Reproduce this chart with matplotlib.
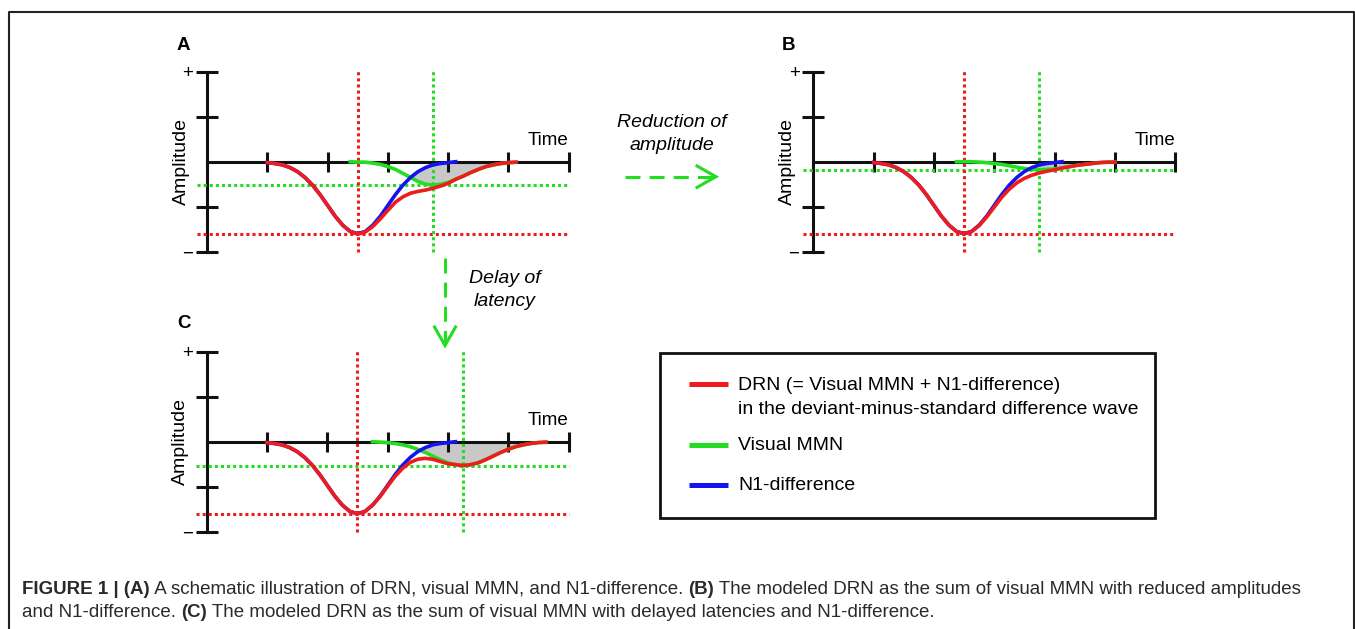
import numpy as np
import matplotlib
matplotlib.use("Agg")
import matplotlib.pyplot as plt
from matplotlib.patches import Rectangle

plt.rcParams['font.family'] = ['Liberation Sans', 'DejaVu Sans']

N = np.nan

# sample times (time-axis tick units) and amplitudes
t = [1.0, 1.125, 1.25, 1.375, 1.5, 1.625, 1.75, 1.875, 2.0, 2.125,
     2.25, 2.375, 2.5, 2.625, 2.75, 2.875, 3.0, 3.125, 3.25, 3.375,
     3.5, 3.625, 3.75, 3.875, 4.0, 4.125, 4.25, 4.375, 4.5, 4.625,
     4.75, 4.875, 5.0, 5.125, 5.25, 5.375, 5.5, 5.625]

# N1-difference (same in all three panels)
n1_diff = [-0.02, -0.04, -0.07, -0.13, -0.22, -0.35, -0.52, -0.73, -0.97, -1.21,
           -1.41, -1.55, -1.60, -1.55, -1.41, -1.21, -0.97, -0.73, -0.52, -0.35,
           -0.22, -0.13, -0.07, -0.04, -0.02, 0.00, N, N, N, N,
           N, N, N, N, N, N, N, N]

# panel A
mmn_a = [N, N, N, N, N, N, N, N, N, N,
         N, 0.00, -0.01, -0.01, -0.03, -0.06, -0.11, -0.17, -0.26, -0.35,
         -0.44, -0.50, -0.52, -0.50, -0.46, -0.39, -0.32, -0.24, -0.17, -0.11,
         -0.07, -0.04, -0.02, -0.01, N, N, N, N]
drn_a = [-0.02, -0.04, -0.07, -0.13, -0.22, -0.35, -0.52, -0.73, -0.97, -1.21,
         -1.41, -1.55, -1.61, -1.56, -1.44, -1.27, -1.08, -0.90, -0.78, -0.70,
         -0.66, -0.63, -0.59, -0.54, -0.48, -0.39, -0.32, -0.24, -0.17, -0.11,
         -0.07, -0.04, -0.02, -0.01, N, N, N, N]

# panel B (reduced MMN amplitude)
mmn_b = [N, N, N, N, N, N, N, N, N, N,
         N, 0.00, 0.00, 0.00, -0.01, -0.02, -0.04, -0.06, -0.09, -0.12,
         -0.15, -0.17, -0.18, -0.17, -0.16, -0.14, -0.11, -0.08, -0.06, -0.04,
         -0.02, -0.01, -0.01, N, N, N, N, N]
drn_b = [-0.02, -0.04, -0.07, -0.13, -0.22, -0.35, -0.52, -0.73, -0.97, -1.21,
         -1.41, -1.55, -1.60, -1.55, -1.42, -1.23, -1.01, -0.79, -0.61, -0.47,
         -0.37, -0.30, -0.25, -0.21, -0.18, -0.14, -0.11, -0.08, -0.06, -0.04,
         -0.02, -0.01, -0.01, N, N, N, N, N]

# panel C (delayed MMN latency)
mmn_c = [N, N, N, N, N, N, N, N, N, N,
         N, N, N, N, 0.00, -0.01, -0.02, -0.04, -0.07, -0.11,
         -0.17, -0.24, -0.32, -0.40, -0.47, -0.51, -0.53, -0.51, -0.47, -0.40,
         -0.32, -0.24, -0.17, -0.11, -0.07, -0.04, -0.02, -0.01]
drn_c = [-0.02, -0.04, -0.07, -0.13, -0.22, -0.35, -0.52, -0.73, -0.97, -1.21,
         -1.41, -1.55, -1.60, -1.55, -1.41, -1.22, -0.99, -0.77, -0.59, -0.46,
         -0.39, -0.37, -0.39, -0.44, -0.49, -0.51, -0.53, -0.51, -0.47, -0.40,
         -0.32, -0.24, -0.17, -0.11, -0.07, -0.04, -0.02, -0.01]

legend_labels = ['DRN (= Visual MMN + N1-difference)',
                 'in the deviant-minus-standard difference wave',
                 'Visual MMN', 'N1-difference']

cap1 = [("FIGURE 1 | (A)", 'bold'),
        (" A schematic illustration of DRN, visual MMN, and N1-difference. ", 'normal'),
        ("(B)", 'bold'),
        (" The modeled DRN as the sum of visual MMN with reduced amplitudes", 'normal')]
cap2 = [("and N1-difference. ", 'normal'),
        ("(C)", 'bold'),
        (" The modeled DRN as the sum of visual MMN with delayed latencies and N1-difference.", 'normal')]

RED = '#ee1c1c'
GREEN = '#22dd22'
BLUE = '#1414ee'
GRAY = '#c8c8c8'
INK = '#111111'

W, H = 1355, 629
fig = plt.figure(figsize=(W / 100, H / 100), dpi=100)

# full-figure layer in pixel units for arrows, legend box, caption
over = fig.add_axes([0, 0, 1, 1])
over.set_xlim(0, W)
over.set_ylim(H, 0)
over.axis('off')

UX, UY = 60.3, 45.0          # pixels per time tick / amplitude unit
XL, YL = (-0.8, 6.2), (-2.35, 2.3)
tt = np.array(t)


def panel(ox, oy, mmn, drn):
    left = ox + XL[0] * UX
    top = oy - YL[1] * UY
    w = (XL[1] - XL[0]) * UX
    h = (YL[1] - YL[0]) * UY
    ax = fig.add_axes([left / W, 1 - (top + h) / H, w / W, h / H])
    ax.patch.set_alpha(0)
    ax.set_xlim(*XL)
    ax.set_ylim(*YL)

    n1 = np.array(n1_diff, float)
    m = np.array(mmn, float)
    d = np.array(drn, float)

    # grey area: MMN part not covered by N1-difference
    base = np.where(np.isnan(n1), 0.0, n1)
    ok = ~np.isnan(m)
    ax.fill_between(tt[ok], base[ok], m[ok], where=m[ok] < base[ok],
                    interpolate=True, color=GRAY, lw=0, zorder=1)

    # peak markers
    dots = dict(ls=(0, (1, 1)), lw=2.2, dash_capstyle='butt', zorder=3)
    i_r = np.nanargmin(d)
    i_g = np.nanargmin(m)
    ax.plot([-0.17, 6.0], [d[i_r], d[i_r]], color=RED, **dots)
    ax.plot([-0.17, 6.0], [m[i_g], m[i_g]], color=GREEN, **dots)
    ax.plot([tt[i_r], tt[i_r]], [-2.0, 2.05], color=RED, **dots)
    ax.plot([tt[i_g], tt[i_g]], [-2.0, 2.05], color=GREEN, **dots)

    ax.plot(tt, m, color=GREEN, lw=2.6, zorder=4)
    ax.plot(tt, n1, color=BLUE, lw=2.6, zorder=5)
    ax.plot(tt, d, color=RED, lw=2.6, zorder=6)

    for s in ['top', 'right']:
        ax.spines[s].set_visible(False)
    ax.spines['left'].set_position(('data', 0))
    ax.spines['bottom'].set_position(('data', 0))
    ax.spines['left'].set_bounds(-2, 2)
    ax.spines['bottom'].set_bounds(0, 6)
    for s in ['left', 'bottom']:
        ax.spines[s].set_linewidth(2.2)
        ax.spines[s].set_color(INK)
    ax.set_xticks(range(1, 7))
    ax.set_xticklabels([])
    ax.set_yticks([-2, -1, 1, 2])
    ax.set_yticklabels(['\u2212', '', '', '+'])
    ax.tick_params(axis='x', direction='inout', length=14.4, width=2.2, color=INK)
    ax.tick_params(axis='y', direction='inout', length=15.8, width=2.2, color=INK,
                   labelsize=13.5, pad=2)

    ax.text(6.0, 0.38, 'Time', ha='right', va='baseline', fontsize=13.5)
    ax.text(-0.43, 0, 'Amplitude', rotation=90, ha='center', va='center', fontsize=14)
    return ax


panel(207.0, 161.7, mmn_a, drn_a)
panel(813.3, 161.7, mmn_b, drn_b)
panel(206.7, 441.7, mmn_c, drn_c)

for lab, x, y in [('A', 177, 50), ('B', 782, 50), ('C', 177, 328)]:
    over.text(x, y, lab, fontsize=13.5, fontweight='bold', va='baseline', ha='left')

# arrows between panels
dash = dict(color=GREEN, lw=2.2, ls=(0, (4.9, 3.0)), dash_capstyle='butt')
head = dict(color=GREEN, lw=2.2, solid_joinstyle='miter')
over.plot([625, 713], [176.7, 176.7], **dash)
over.plot([697, 716, 697], [166, 176.7, 187.4], **head)
over.plot([445, 445], [258, 344], **dash)
over.plot([434.5, 445, 455.5], [327, 345.5, 327], **head)
over.text(671.7, 134, 'Reduction of\namplitude', style='italic', ha='center',
          va='center', fontsize=14, linespacing=1.5)
over.text(505, 290, 'Delay of\nlatency', style='italic', ha='center',
          va='center', fontsize=14, linespacing=1.45)

# legend
over.add_patch(Rectangle((660, 353.3), 495, 165, fill=False, lw=2.0, ec=INK))
for col, y in [(RED, 384.3), (GREEN, 445), (BLUE, 485)]:
    over.plot([689, 728], [y, y], color=col, lw=3.6, solid_capstyle='butt')
for lab, y in zip(legend_labels, [385, 410, 445, 485]):
    over.text(738, y, lab, fontsize=14, va='center', ha='left')

# outer frame
over.plot([8.5, 8.5, 1353.5, 1353.5], [H + 5, 11.5, 11.5, H + 5], color='#222222', lw=1.5)

# caption, bold and regular runs chained left to right
cap_font = ['Liberation Sans Narrow', 'Liberation Sans', 'DejaVu Sans']


def caption_line(parts, x, y):
    prev = None
    out = []
    for s, wt in parts:
        if prev is None:
            a = over.text(x, y, s, fontsize=12, fontweight=wt, family=cap_font,
                          color='#2a2a2a', va='bottom', ha='left')
        else:
            a = over.annotate(s, xy=(1, 0), xycoords=prev, fontsize=12, fontweight=wt,
                              family=cap_font, color='#2a2a2a', va='bottom', ha='left')
        out.append(a)
        prev = a
    return out


line1 = caption_line(cap1, 22, 598)
line2 = caption_line(cap2, 22, 621)

fig.canvas.draw()
r = fig.canvas.get_renderer()
width = line1[-1].get_window_extent(r).x1 - line1[0].get_window_extent(r).x0
scale = 1288 / width
for a in line1 + line2:
    a.set_fontsize(12 * scale)

fig.savefig('out.png', dpi=100, facecolor='white')
